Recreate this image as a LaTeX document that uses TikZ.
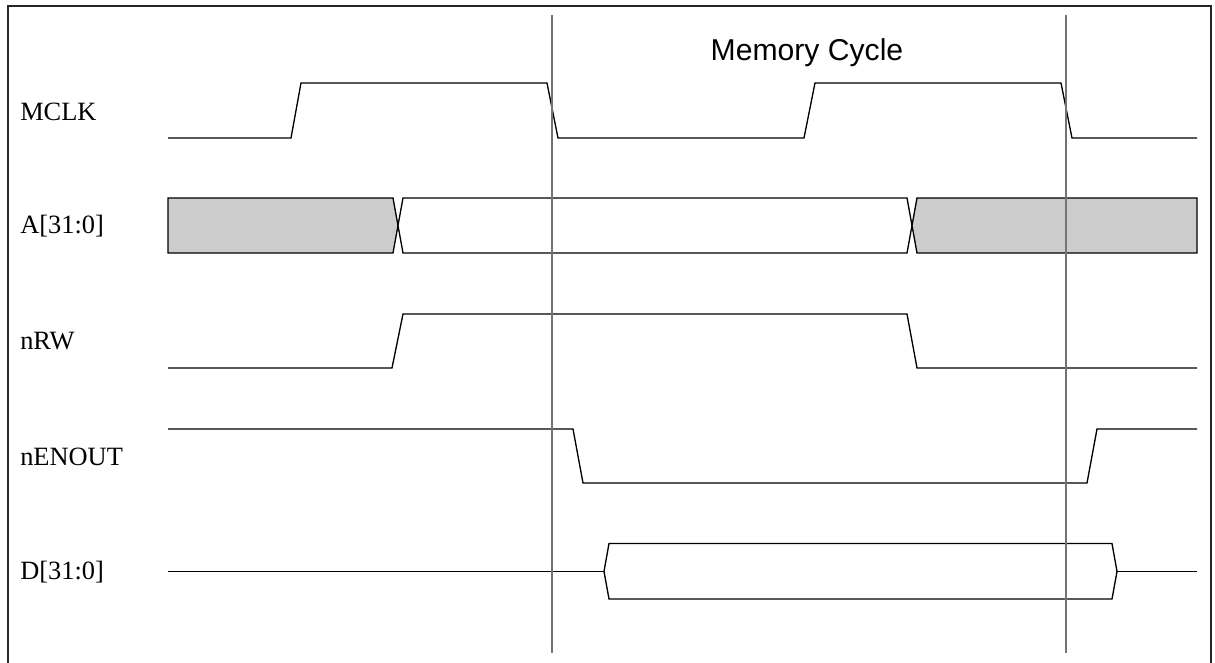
\documentclass[tikz,border=0pt]{standalone}
\usepackage{fontspec}
\setmainfont{Liberation Serif}
\newfontfamily\arialfont{Liberation Sans}
\begin{document}
\begin{tikzpicture}[x=0.75pt,y=-0.75pt,
  sig/.style={draw=black,line width=1pt,line join=miter},
  busgray/.style={sig,fill=black!20},
  buswhite/.style={sig,fill=white},
  marker/.style={draw=black!55,line width=1.1pt},
  frameline/.style={draw=black!85,line width=1.3pt},
  siglabel/.style={anchor=west,font=\fontsize{19.8}{22}\selectfont,inner sep=0pt},
  titlelabel/.style={font=\arialfont\fontsize{22.6}{26}\selectfont,inner sep=0pt}]
\useasboundingbox (0,0) rectangle (1215,663);
\fill[white] (0,0) rectangle (1215,663);
% frame
\draw[frameline] (8,670) -- (8,6) -- (1211,6) -- (1211,670);
% labels
\node[siglabel] (lmclk) at (20,112) {MCLK};
\node[siglabel] (la) at (20,226) {A[31:0]};
\node[siglabel] (lnrw) at (20,341) {nRW};
\node[siglabel] (lnen) at (20,457) {nENOUT};
\node[siglabel] (ld) at (20,572) {D[31:0]};
\node[titlelabel] (title) at (807,53) {Memory Cycle};
% MCLK
\draw[sig] (168,138) -- (291,138) -- (301,83) -- (547,83) -- (558,138) -- (804,138) -- (815,83) -- (1061,83) -- (1072,138) -- (1197,138);
% A bus
\draw[busgray] (168,198) -- (393,198) -- (398,225.5) -- (393,253) -- (168,253) -- cycle;
\draw[buswhite] (403,198) -- (907,198) -- (912,225.5) -- (907,253) -- (403,253) -- (398,225.5) -- cycle;
\draw[busgray] (917,198) -- (1197,198) -- (1197,253) -- (917,253) -- (912,225.5) -- cycle;
% nRW
\draw[sig] (168,368) -- (392,368) -- (403,314) -- (907,314) -- (917,368) -- (1197,368);
% nENOUT
\draw[sig] (168,429) -- (573,429) -- (583,483) -- (1087,483) -- (1097,429) -- (1197,429);
% D bus
\draw[sig] (168,571.5) -- (604,571.5);
\draw[buswhite] (609,543.5) -- (1112,543.5) -- (1117,571.5) -- (1112,599) -- (609,599) -- (604,571.5) -- cycle;
\draw[sig] (1117,571.5) -- (1197,571.5);
% cycle markers
\draw[marker] (552,15) -- (552,653);
\draw[marker] (1066,15) -- (1066,653);
\end{tikzpicture}
\end{document}
